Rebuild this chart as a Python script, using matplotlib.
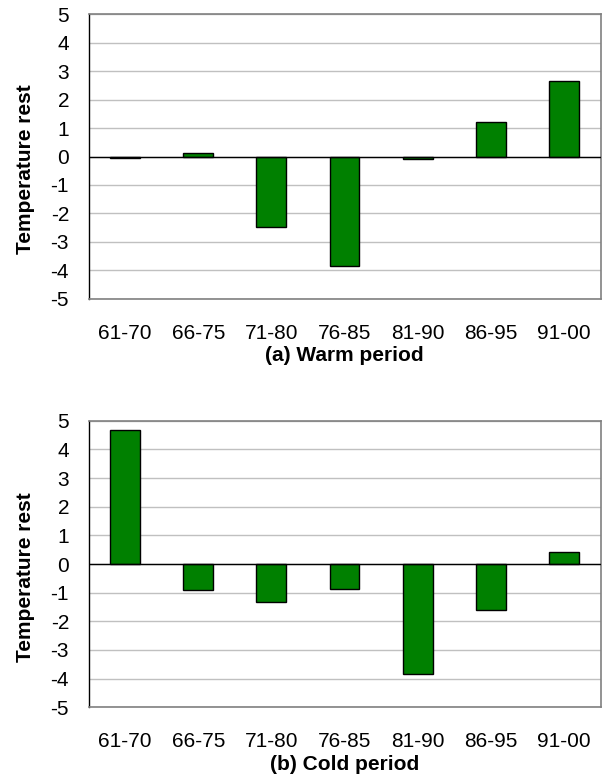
import matplotlib
matplotlib.use("Agg")
import matplotlib.pyplot as plt

periods = ["61-70", "66-75", "71-80", "76-85", "81-90", "86-95", "91-00"]
warm_values = [-0.06, 0.14, -2.48, -3.86, -0.10, 1.23, 2.67]
cold_values = [4.67, -0.91, -1.33, -0.86, -3.83, -1.60, 0.42]
yticks = [5, 4, 3, 2, 1, 0, -1, -2, -3, -4, -5]
titles = ["(a) Warm period", "(b) Cold period"]
ylabel = "Temperature rest"

plt.rcParams['font.family'] = ['Liberation Sans', 'DejaVu Sans']

fig = plt.figure(figsize=(6.03, 7.8), dpi=100)
W, H = 603, 780
boxes = [(88.5, 14.3, 600.5, 298.7), (88.5, 420.7, 600.5, 707.3)]

for (x0, y0, x1, y1), vals, title in zip(boxes, [warm_values, cold_values], titles):
    ax = fig.add_axes([x0 / W, (H - y1) / H, (x1 - x0) / W, (y1 - y0) / H])
    xs = list(range(len(periods)))
    ax.bar(xs, vals, width=0.41, color="#008000", edgecolor="black", linewidth=1, zorder=3)
    ax.set_xlim(-0.5, len(periods) - 0.5)
    ax.set_ylim(-5, 5)
    ax.set_yticks(yticks)
    ax.set_yticklabels([str(v) for v in yticks])
    ax.set_xticks(xs)
    ax.set_xticklabels(periods)
    ax.tick_params(axis='y', length=0, pad=14, labelsize=15)
    ax.tick_params(axis='x', length=0, pad=18, labelsize=15)
    ax.grid(axis='y', color="#c0c0c0", linewidth=1, zorder=0)
    ax.axhline(0, color="black", linewidth=1, zorder=4)
    ax.spines['left'].set_color("black")
    for s in ['top', 'right', 'bottom']:
        ax.spines[s].set_color("#808080")
        ax.spines[s].set_linewidth(1.2)
    ax.spines['left'].set_linewidth(1)
    ax.set_xlabel(title, fontsize=15, fontweight='bold', va='center')
    ax.xaxis.set_label_coords(0.5, -57 / (y1 - y0))
    ax.set_ylabel(ylabel, fontsize=15, fontweight='bold', va='center')
    ax.yaxis.set_label_coords((26 - x0) / (x1 - x0), 0.455)

fig.savefig("out.png", dpi=100)
